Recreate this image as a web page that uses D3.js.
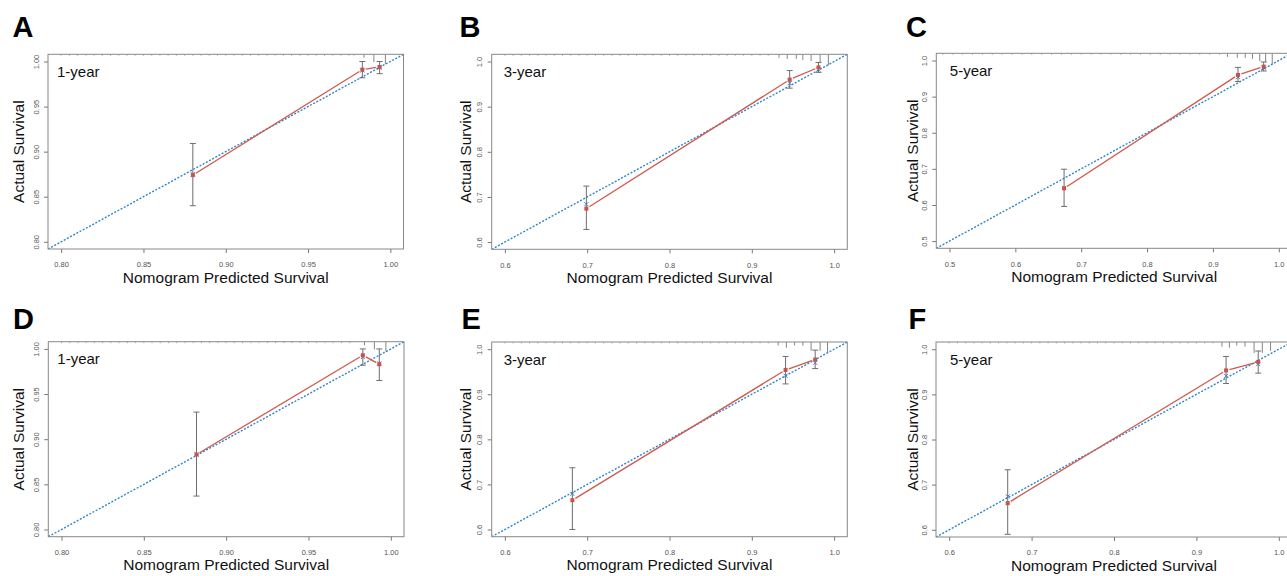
<!DOCTYPE html>
<html><head><meta charset="utf-8">
<script src="https://cdn.jsdelivr.net/npm/d3@7"></script>
<style>body{margin:0;background:#fff} svg{display:block}</style>
</head><body><svg id="c" width="1287" height="576"></svg>
<script>
// ---------- data ----------
const panelLetters = ["A", "B", "C", "D", "E", "F"];
const yearLabels = ["1-year", "3-year", "5-year", "1-year", "3-year", "5-year"];
const axisLimits = [[0.8, 1.0], [0.6, 1.0], [0.5, 1.0], [0.8, 1.0], [0.6, 1.0], [0.6, 1.0]];
const ticks1 = [0.80, 0.85, 0.90, 0.95, 1.00];
const ticks3 = [0.6, 0.7, 0.8, 0.9, 1.0];
const ticks5 = [0.5, 0.6, 0.7, 0.8, 0.9, 1.0];
const tickLabels1 = ["0.80", "0.85", "0.90", "0.95", "1.00"];
const tickLabels3 = ["0.6", "0.7", "0.8", "0.9", "1.0"];
const tickLabels5 = ["0.5", "0.6", "0.7", "0.8", "0.9", "1.0"];
const tickValues = [ticks1, ticks3, ticks5, ticks1, ticks3, ticks3];
const tickLabels = [tickLabels1, tickLabels3, tickLabels5, tickLabels1, tickLabels3, tickLabels3];

// calibration points per panel: nomogram predicted, observed (apparent), 95% CI, bias-corrected
const predicted = [[0.880, 0.983, 0.9935], [0.699, 0.946, 0.981], [0.674, 0.938, 0.977],
                   [0.882, 0.983, 0.993], [0.682, 0.941, 0.977], [0.671, 0.936, 0.975]];
const observed  = [[0.874, 0.991, 0.994], [0.674, 0.960, 0.987], [0.646, 0.960, 0.983],
                   [0.883, 0.993, 0.983], [0.665, 0.954, 0.977], [0.659, 0.953, 0.972]];
const lowerCI   = [[0.840, 0.982, 0.9865], [0.628, 0.941, 0.976], [0.596, 0.942, 0.971],
                   [0.837, 0.982, 0.965], [0.600, 0.923, 0.957], [0.590, 0.924, 0.947]];
const upperCI   = [[0.909, 1.000, 1.000], [0.724, 0.980, 0.998], [0.699, 0.981, 0.996],
                   [0.930, 1.000, 1.000], [0.737, 0.984, 0.998], [0.733, 0.984, 0.996]];
const corrected = [[0.875, 0.990, 0.993], [0.684, 0.952, 0.982], [0.647, 0.954, 0.980],
                   [0.883, 0.991, 0.984], [0.679, 0.941, 0.970], [0.674, 0.941, 0.967]];

// distribution of predicted risk (rug along the top edge): values and relative frequency
const rugLow1 = [0.800,0.805,0.810,0.815,0.820,0.825,0.830,0.835,0.840,0.845,0.850,0.855,0.860,0.865,0.870,0.875,0.880,0.885,
                 0.890,0.895,0.900,0.905,0.910,0.915,0.920,0.925,0.930,0.935,0.940,0.945,0.950,0.955,0.960,0.965,0.970,0.975];
const rugLow3 = [0.60,0.61,0.62,0.63,0.64,0.65,0.66,0.67,0.68,0.69,0.70,0.71,0.72,0.73,0.74,0.75,0.76,0.77,0.78,0.79,0.80,
                 0.81,0.82,0.83,0.84,0.85,0.86,0.87,0.88,0.89,0.90,0.91,0.92];
const rugLow5 = [0.490,0.505,0.520,0.535,0.550,0.565,0.580,0.595,0.610,0.625,0.640,0.655,0.670,0.685,0.700,0.715,0.730,0.745,
                 0.760,0.775,0.790,0.805,0.820,0.835,0.850,0.865,0.880,0.895,0.910];
const rugHighValues = [[0.978, 0.984, 0.990, 0.997], [0.933, 0.943, 0.954, 0.962, 0.972, 0.983, 0.993],
                       [0.922, 0.937, 0.949, 0.960, 0.971, 0.980, 0.990], [0.984, 0.990, 0.997],
                       [0.932, 0.942, 0.952, 0.962, 0.972, 0.983, 0.992], [0.931, 0.940, 0.949, 0.959, 0.970, 0.980, 0.990]];
const rugHighFreq = [[1, 3, 7, 9], [3, 4, 4, 5, 6, 8, 10], [3, 4, 4, 5, 7, 8, 10], [3, 7, 9],
                     [3, 5, 3, 3, 8, 8, 10], [4, 5, 3, 4, 10, 10, 8]];
const rugLowValues = [rugLow1, rugLow3, rugLow5, rugLow1, rugLow3, rugLow3];

// ---------- layout ----------
const boxes = [
  {l: 48, t: 54.3, r: 403.5, b: 249, yt: 18.3, lx: 12.5, ly: 36.7, tx: 9},
  {l: 491.7, t: 54.3, r: 847.3, b: 249.3, yt: 465, lx: 459.5, ly: 36.7, tx: 12},
  {l: 936.3, t: 53.3, r: 1292, b: 248.3, yt: 912, lx: 906, ly: 36.7, tx: 13.5},
  {l: 48.3, t: 341.7, r: 404, b: 536.7, yt: 18.3, lx: 13, ly: 329.3, tx: 9},
  {l: 491.7, t: 342, r: 847.3, b: 536.7, yt: 465, lx: 461.5, ly: 329.3, tx: 12},
  {l: 936, t: 342, r: 1292, b: 537, yt: 912, lx: 908.5, ly: 329.3, tx: 14}
];
const FONT = "'Liberation Sans', Arial, Helvetica, sans-serif";
const svg = d3.select("#c");

boxes.forEach((bx, i) => {
  const [lo, hi] = axisLimits[i];
  const pad = 0.04 * (hi - lo);
  const x = d3.scaleLinear().domain([lo - pad, hi + pad]).range([bx.l, bx.r]);
  const y = d3.scaleLinear().domain([lo - pad, hi + pad]).range([bx.b, bx.t]);
  const g = svg.append("g");

  // x axis
  const xa = g.append("g").attr("transform", `translate(0,${bx.b})`)
    .call(d3.axisBottom(x).tickValues(tickValues[i]).tickSize(4).tickPadding(9)
      .tickFormat((d, j) => tickLabels[i][j]));
  xa.select(".domain").remove();
  xa.selectAll("line").attr("stroke", "#777");
  xa.selectAll("text").attr("font-family", FONT).attr("font-size", 7.5).attr("fill", "#555");

  // y axis
  const ya = g.append("g").attr("transform", `translate(${bx.l},0)`)
    .call(d3.axisLeft(y).tickValues(tickValues[i]).tickSize(4)
      .tickFormat((d, j) => tickLabels[i][j]));
  ya.select(".domain").remove();
  ya.selectAll("line").attr("stroke", "#777");
  ya.selectAll("text").attr("font-family", FONT).attr("font-size", 7.5).attr("fill", "#555")
    .attr("transform", "rotate(-90)").attr("x", 0).attr("y", -9.5).attr("dy", 0)
    .attr("text-anchor", "middle");

  // clip region
  const cid = "clip" + i;
  g.append("clipPath").attr("id", cid).append("rect")
    .attr("x", bx.l).attr("y", bx.t).attr("width", bx.r - bx.l).attr("height", bx.b - bx.t);
  const pg = g.append("g").attr("clip-path", `url(#${cid})`);

  // rug at top
  const rug = rugLowValues[i].map(v => ({v, f: 1}))
    .concat(rugHighValues[i].map((v, j) => ({v, f: rugHighFreq[i][j]})));
  pg.selectAll("line.rug").data(rug).enter().append("line")
    .attr("x1", d => x(d.v)).attr("x2", d => x(d.v))
    .attr("y1", bx.t).attr("y2", d => bx.t + 0.4 + d.f * 1.05)
    .attr("stroke", d => d.f > 1 ? "#666" : "#999").attr("stroke-width", 0.8);

  // ideal line
  pg.append("line")
    .attr("x1", x(lo - pad)).attr("y1", y(lo - pad)).attr("x2", x(hi + pad)).attr("y2", y(hi + pad))
    .attr("stroke", "#2e86c9").attr("stroke-width", 1.4).attr("stroke-dasharray", "2,1.6");

  const pts = predicted[i].map((p, j) => ({p, o: observed[i][j], lo: lowerCI[i][j], hi: upperCI[i][j], c: corrected[i][j]}));

  // error bars
  const eb = pg.selectAll("g.eb").data(pts).enter().append("g").attr("stroke", "#6e6e6e").attr("stroke-width", 1);
  eb.append("line").attr("x1", d => x(d.p)).attr("x2", d => x(d.p)).attr("y1", d => y(d.lo)).attr("y2", d => y(d.hi));
  eb.append("line").attr("x1", d => x(d.p) - 3).attr("x2", d => x(d.p) + 3).attr("y1", d => y(d.lo)).attr("y2", d => y(d.lo));
  eb.append("line").attr("x1", d => x(d.p) - 3).attr("x2", d => x(d.p) + 3).attr("y1", d => y(d.hi)).attr("y2", d => y(d.hi));

  // bias-corrected markers (blue x)
  const bx2 = pg.selectAll("g.bc").data(pts).enter().append("g")
    .attr("transform", d => `translate(${x(d.p)},${y(d.c)})`).attr("stroke", "#3f7fc6").attr("stroke-width", 1);
  bx2.append("line").attr("x1", -2).attr("y1", -2).attr("x2", 2).attr("y2", 2);
  bx2.append("line").attr("x1", -2).attr("y1", 2).attr("x2", 2).attr("y2", -2);

  // apparent calibration line (segments with gaps around points)
  const segs = d3.pairs(pts).map(([a, b]) => {
    const x1 = x(a.p), y1 = y(a.o), x2 = x(b.p), y2 = y(b.o);
    const len = Math.hypot(x2 - x1, y2 - y1), gap = 3.5;
    const ux = (x2 - x1) / len, uy = (y2 - y1) / len;
    return {x1: x1 + ux * gap, y1: y1 + uy * gap, x2: x2 - ux * gap, y2: y2 - uy * gap};
  });
  pg.selectAll("line.seg").data(segs).enter().append("line")
    .attr("x1", d => d.x1).attr("y1", d => d.y1).attr("x2", d => d.x2).attr("y2", d => d.y2)
    .attr("stroke", "#d0594d").attr("stroke-width", 1.3);
  pg.selectAll("rect.pt").data(pts).enter().append("rect")
    .attr("x", d => x(d.p) - 2).attr("y", d => y(d.o) - 2).attr("width", 4).attr("height", 4)
    .attr("fill", "#c9524a");

  // frame
  g.append("rect").attr("x", bx.l).attr("y", bx.t).attr("width", bx.r - bx.l).attr("height", bx.b - bx.t)
    .attr("fill", "none").attr("stroke", "#888").attr("stroke-width", 1);

  // texts
  g.append("text").attr("x", bx.l + bx.tx).attr("y", bx.t + 22.5)
    .attr("font-family", FONT).attr("font-size", 15).attr("fill", "#111").text(yearLabels[i]);
  g.append("text").attr("x", (bx.l + Math.min(bx.r, 1292)) / 2).attr("y", bx.b + 33.5)
    .attr("text-anchor", "middle").attr("font-family", FONT).attr("font-size", 15.5).attr("fill", "#111")
    .text("Nomogram Predicted Survival");
  g.append("text").attr("transform", `translate(${bx.yt + 5.5},${(bx.t + bx.b) / 2}) rotate(-90)`)
    .attr("text-anchor", "middle").attr("font-family", FONT).attr("font-size", 15.5).attr("fill", "#111")
    .text("Actual Survival");
  g.append("text").attr("x", bx.lx).attr("y", bx.ly)
    .attr("font-family", FONT).attr("font-weight", "bold").attr("font-size", 29).attr("fill", "#000")
    .text(panelLetters[i]);
});
</script></body></html>
